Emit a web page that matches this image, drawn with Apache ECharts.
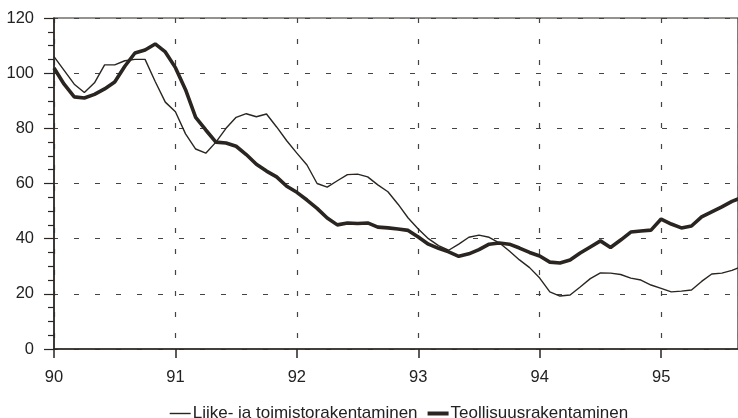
<!DOCTYPE html>
<html>
<head>
<meta charset="utf-8">
<script src="https://cdn.jsdelivr.net/npm/echarts@6/dist/echarts.min.js"></script>
<style>
html,body{margin:0;padding:0;background:#fff;}
#c{width:738px;height:418px;}
</style>
</head>
<body>
<div id="c"></div>
<script>
// monthly observations, Jan 1990 onwards (index i -> year 90 + i/12)
var startYear = 90;
var seriesNames = ['Liike- ja toimistorakentaminen', 'Teollisuusrakentaminen'];
var liike = [106, 101, 96, 93, 96.5, 103, 103, 104.5, 105, 105, 97, 89.5,
  86, 78, 72.5, 71, 75, 80, 84, 85.3, 84.2, 85.2, 80.5, 75.5,
  71, 66.7, 60, 58.7, 61, 63.2, 63.4, 62.4, 59.5, 57, 52.5, 47.5,
  43.5, 40, 37.5, 35.8, 38, 40.5, 41.3, 40.5, 38.5, 35.5, 32.3, 29.5,
  25.7, 20.7, 19.2, 19.6, 22.5, 25.5, 27.6, 27.5, 27, 25.7, 25, 23.2,
  22, 20.7, 21, 21.4, 24.5, 27.2, 27.5, 28.5, 30];
var teollisuus = [101.9, 96, 91.4, 91, 92.3, 94.3, 96.8, 102.5, 107.3, 108.4, 110.6, 107.7,
  102, 94, 84, 79.4, 75, 74.7, 73.5, 70.5, 67, 64.5, 62.4, 59,
  56.8, 54, 51, 47.5, 45, 45.7, 45.5, 45.7, 44.2, 43.9, 43.5, 43,
  40.6, 38, 36.5, 35.2, 33.6, 34.5, 36, 38, 38.4, 38, 36.6, 35,
  33.7, 31.5, 31.2, 32.3, 34.8, 37, 39.2, 36.8, 39.5, 42.4, 42.8, 43.1,
  47.1, 45.3, 43.9, 44.6, 47.9, 49.7, 51.5, 53.5, 55];
var yTicks = [0, 20, 40, 60, 80, 100, 120];
var xTicks = [90, 91, 92, 93, 94, 95];

function toPairs(arr) {
  return arr.map(function (v, i) { return [startYear + i / 12, v]; });
}

var ink = '#2a2520';
var font = '"Liberation Sans", Arial, sans-serif';
var chart = echarts.init(document.getElementById('c'), null, {renderer: 'canvas'});
chart.setOption({
  animation: false,
  backgroundColor: '#ffffff',
  grid: {
    left: 54, top: 18, right: -1, bottom: 69,
    show: true, borderColor: ink, borderWidth: 1.2, backgroundColor: 'transparent'
  },
  legend: {
    top: 400, left: 164,
    itemWidth: 21, itemHeight: 12, itemGap: 8,
    itemStyle: {opacity: 0, borderWidth: 0},
    textStyle: {fontFamily: font, fontSize: 17, color: '#222', padding: [0, 0, 0, -3]},
    data: [
      {name: seriesNames[0], lineStyle: {width: 1.4}},
      {name: seriesNames[1], lineStyle: {width: 4}}
    ]
  },
  xAxis: {
    type: 'value',
    min: xTicks[0], max: 95.633, interval: 1,
    axisLine: {show: true, onZero: false, lineStyle: {color: ink, width: 1.5}},
    axisTick: {show: true, length: 9, lineStyle: {color: ink, width: 1.5}},
    axisLabel: {
      margin: 20, fontFamily: font, fontSize: 16.5, color: '#222',
      showMaxLabel: false,
      formatter: function (v) { return xTicks.indexOf(v) >= 0 ? String(v) : ''; }
    },
    splitLine: {show: true, lineStyle: {color: '#444', width: 1.2, type: [5, 16]}}
  },
  yAxis: {
    type: 'value',
    min: yTicks[0], max: yTicks[yTicks.length - 1], interval: 20,
    axisLine: {show: true, lineStyle: {color: ink, width: 1.5}},
    axisTick: {show: true, length: 10, lineStyle: {color: ink, width: 1.2}},
    minorTick: {show: true, splitNumber: 4, length: 6, lineStyle: {color: ink, width: 1.2}},
    axisLabel: {margin: 20, fontFamily: font, fontSize: 16.5, color: '#222'},
    splitLine: {show: true, lineStyle: {color: '#444', width: 1.2, type: [5, 16], dashOffset: -20}}
  },
  series: [
    {
      name: seriesNames[0], type: 'line', symbol: 'none', clip: true,
      lineStyle: {color: ink, width: 1.4}, itemStyle: {color: ink},
      data: toPairs(liike)
    },
    {
      name: seriesNames[1], type: 'line', symbol: 'none', clip: true,
      lineStyle: {color: ink, width: 3.6}, itemStyle: {color: ink},
      data: toPairs(teollisuus)
    }
  ]
});
</script>
</body>
</html>
